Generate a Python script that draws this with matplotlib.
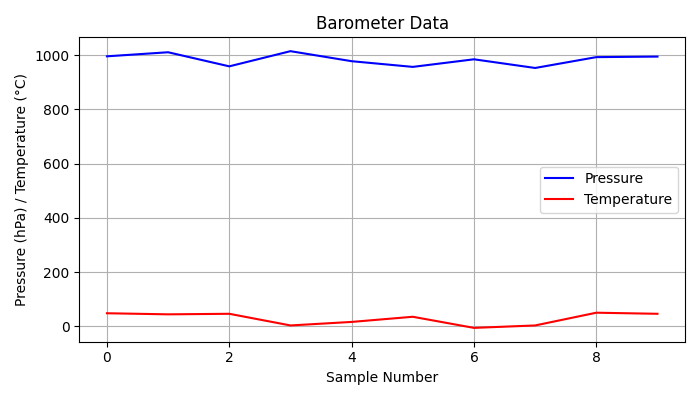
import matplotlib
matplotlib.use("Agg")
import matplotlib.pyplot as plt

samples = list(range(10))
pressure = [996, 1011, 959, 1015, 978, 957, 985, 953, 993, 995]
temperature = [48, 44, 46, 3, 16, 35, -6, 3, 50, 46]

fig, ax = plt.subplots(figsize=(7, 4), dpi=100)
ax.plot(samples, pressure, color="blue", label="Pressure")
ax.plot(samples, temperature, color="red", label="Temperature")
ax.set_title("Barometer Data")
ax.set_xlabel("Sample Number")
ax.set_ylabel("Pressure (hPa) / Temperature (°C)")
ax.grid(True)
ax.legend(loc="center right")
fig.tight_layout()
fig.savefig("out.png")
